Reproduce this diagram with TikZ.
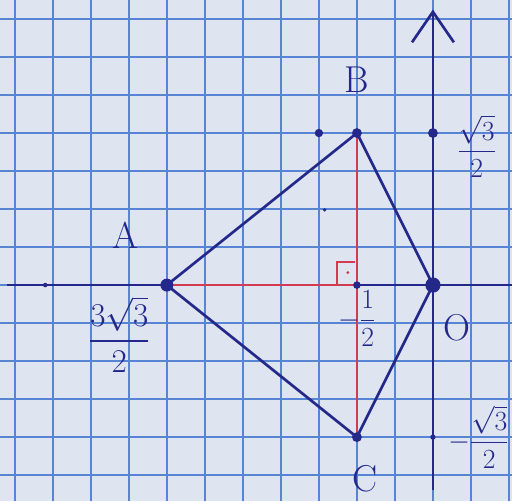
\documentclass[tikz,border=0pt]{standalone}
\usepackage{amsmath}
\usetikzlibrary{arrows.meta}
\definecolor{paper}{RGB}{222,229,241}
\definecolor{gridblue}{RGB}{88,132,214}
\definecolor{ink}{RGB}{36,40,138}
\definecolor{redink}{RGB}{214,58,82}
\tikzset{
  inkline/.style={color=ink,line width=2pt},
  redline/.style={color=redink,line width=1.8pt},
  ptlabel/.style={color=ink,font=\fontsize{28}{32}\selectfont},
  fraclabel/.style={color=ink,font=\fontsize{20}{24}\selectfont},
}
\begin{document}
\begin{tikzpicture}[x=1cm,y=1cm]
    \fill[paper] (-11.39,-5.68) rectangle (2.08,7.5);
    \useasboundingbox (-11.39,-5.68) rectangle (2.08,7.5);
    \draw[gridblue,line width=1.1pt] (-11.39,-5.68) grid (2.08,7.5);
    % points
    \coordinate (O) at (0,0);
    \coordinate (A) at (-7,0);
    \coordinate (B) at (-2,4);
    \coordinate (C) at (-2,-4);
    \coordinate (H) at (-2,0);
    \coordinate (xl) at (-11.2,0);
    \coordinate (xr) at (2.08,0);
    \coordinate (yb) at (0,-5.4);
    \coordinate (yt) at (0,7.25);
    \coordinate (ys) at (0,4);
    \coordinate (yi) at (0,-4);
    % axes
    \draw[inkline] (xl) -- (xr);
    \draw[inkline,-{Straight Barb[length=8mm,width=11mm]}] (yb) -- (yt);
    % figure
    \draw[inkline] (A) -- (B) -- (O) -- (C) -- cycle;
    \draw[redline] (A) -- (H);
    \draw[redline] (B) -- (C);
    \draw[redline,line width=1.4pt] (-2.52,0) -- (-2.52,0.6) -- (-2.05,0.6);
    \fill[redink] (-2.24,0.33) circle (0.04);
    % dots
    \fill[ink] (O) circle (0.2);
    \fill[ink] (A) circle (0.17);
    \fill[ink] (B) circle (0.13);
    \fill[ink] (C) circle (0.13);
    \fill[ink] (H) circle (0.1);
    \fill[ink] (ys) circle (0.13);
    \fill[ink] (yi) circle (0.07);
    \fill[ink] (-3,4) circle (0.11);
    \fill[ink] (-2.85,1.98) circle (0.05);
    \fill[ink] (-10.2,0) circle (0.06);
    % labels
    \node[ptlabel] (lA) at (-8.1,1.3) {A};
    \node[ptlabel] (lB) at (-2,5.4) {B};
    \node[ptlabel] (lC) at (-1.8,-5.1) {C};
    \node[ptlabel] (lO) at (0.63,-1.13) {O};
    \node[fraclabel] (lys) at (1.15,3.65) {$\dfrac{\sqrt{3}}{2}$};
    \node[fraclabel] (lyi) at (1.2,-4.0) {$-\dfrac{\sqrt{3}}{2}$};
    \node[fraclabel] (lH) at (-2.0,-0.88) {$-\dfrac{1}{2}$};
    \node[fraclabel,font=\fontsize{26}{30}\selectfont] (lxA) at (-8.25,-1.3) {$\dfrac{3\sqrt{3}}{2}$};
\end{tikzpicture}
\end{document}
